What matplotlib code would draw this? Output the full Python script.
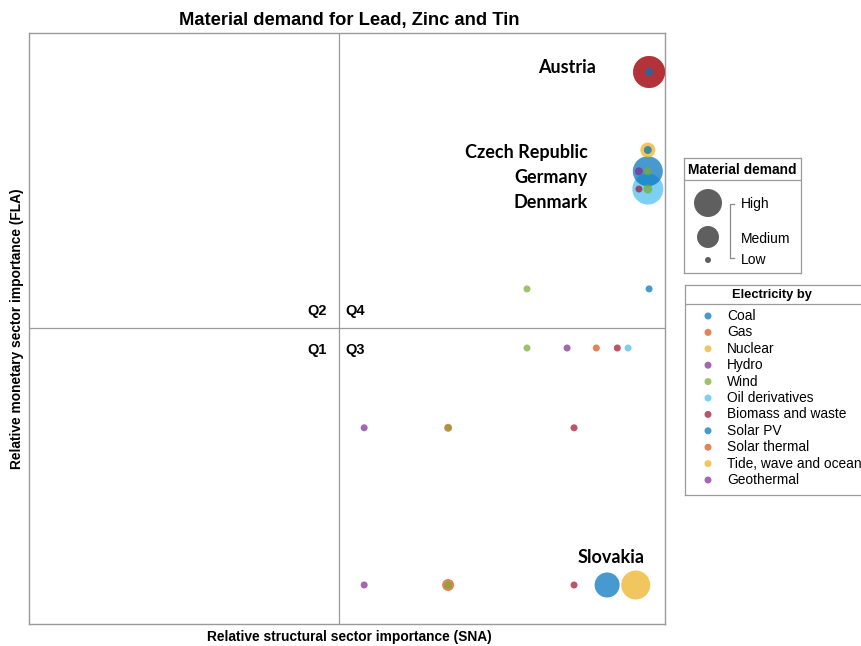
import matplotlib
matplotlib.use("Agg")
import matplotlib.pyplot as plt
from matplotlib.lines import Line2D

plt.rcParams['font.family'] = ['Liberation Sans', 'DejaVu Sans']

# --- data -------------------------------------------------------------
techs = ['Coal', 'Gas', 'Nuclear', 'Hydro', 'Wind', 'Oil derivatives',
         'Biomass and waste', 'Solar PV', 'Solar thermal',
         'Tide, wave and ocean', 'Geothermal']
tech_colors = ['#0072BD', '#D95319', '#EDB120', '#7E2F8E', '#77AC30', '#4DBEEE',
               '#A2142F', '#0072BD', '#D95319', '#EDB120', '#7E2F8E']

# one entry per bubble: technology, SNA score, FLA score, relative demand
pt_tech = ['Gas', 'Biomass and waste', 'Coal',
           'Nuclear', 'Coal',
           'Oil derivatives', 'Biomass and waste', 'Wind',
           'Coal', 'Hydro', 'Wind',
           'Wind', 'Coal',
           'Wind', 'Hydro', 'Gas', 'Biomass and waste', 'Oil derivatives',
           'Geothermal', 'Gas', 'Wind', 'Biomass and waste',
           'Hydro', 'Gas', 'Wind', 'Biomass and waste', 'Coal', 'Nuclear']
pt_x = [9.75, 9.75, 9.75,
        9.73, 9.73,
        9.73, 9.59, 9.73,
        9.73, 9.59, 9.73,
        7.83, 9.75,
        7.83, 8.46, 8.92, 9.25, 9.42,
        5.27, 6.59, 6.59, 8.57,
        5.27, 6.59, 6.59, 8.57, 9.09, 9.54]
pt_y = [9.34, 9.34, 9.34,
        8.02, 8.02,
        7.36, 7.36, 7.36,
        7.66, 7.66, 7.66,
        5.67, 5.67,
        4.67, 4.67, 4.67, 4.67, 4.67,
        3.32, 3.32, 3.32, 3.32,
        0.66, 0.66, 0.66, 0.66, 0.66, 0.66]
pt_demand = [32, 32, 8,
             15, 8,
             31, 7, 9,
             30, 8, 8,
             7, 7,
             7, 7, 7, 7, 7,
             7, 8, 6, 7,
             7, 12, 8, 7, 25, 29]

countries = ['Austria', 'Czech Republic', 'Germany', 'Denmark', 'Slovakia']
country_x = [8.92, 8.79, 8.79, 8.79, 8.63]
country_y = [9.41, 7.97, 7.56, 7.14, 1.13]
country_ha = ['right', 'right', 'right', 'right', 'left']

x_split = 4.874
y_split = 5.008

color_of = dict(zip(techs, tech_colors))

# --- figure -----------------------------------------------------------
fig = plt.figure(figsize=(8.61, 6.46), dpi=100)
ax = fig.add_axes([29 / 861, 22 / 646, 636 / 861, 591 / 646])
ax.set_xlim(0, 10)
ax.set_ylim(0, 10)
ax.set_xticks([])
ax.set_yticks([])
for s in ax.spines.values():
    s.set_color('#9a9a9a')
    s.set_linewidth(1.0)

ax.axvline(x_split, color='#9a9a9a', lw=0.9, zorder=1)
ax.axhline(y_split, color='#9a9a9a', lw=0.9, zorder=1)

# big bubbles first so the small ones stay visible (stable sort keeps order)
order = sorted(range(len(pt_x)), key=lambda i: -pt_demand[i])
for i in order:
    d_pt = pt_demand[i] * 0.72
    ax.scatter(pt_x[i], pt_y[i], s=d_pt ** 2, color=color_of[pt_tech[i]],
               alpha=0.72, edgecolors='none', zorder=3)

for name, cx, cy, ha in zip(countries, country_x, country_y, country_ha):
    ax.text(cx, cy, name, ha=ha, va='center', fontsize=13, fontweight='bold',
            family=['Lato', 'DejaVu Sans'], zorder=5)

qkw = dict(fontsize=10.5, fontweight='bold', va='center')
ax.text(x_split - 0.19, 5.30, 'Q2', ha='right', **qkw)
ax.text(x_split + 0.10, 5.30, 'Q4', ha='left', **qkw)
ax.text(x_split - 0.19, 4.64, 'Q1', ha='right', **qkw)
ax.text(x_split + 0.10, 4.64, 'Q3', ha='left', **qkw)

fig.text(349 / 861, 1 - 20 / 646, 'Material demand for Lead, Zinc and Tin',
         ha='center', va='center', fontsize=13.2, fontweight='bold')
fig.text(349 / 861, 1 - 637 / 646, 'Relative structural sector importance (SNA)',
         ha='center', va='center', fontsize=9.9, fontweight='bold')
fig.text(17 / 861, 1 - 329 / 646, 'Relative monetary sector importance (FLA)',
         ha='center', va='center', rotation=90, fontsize=9.9, fontweight='bold')

# --- legend: material demand -----------------------------------------
size_labels = ['High', 'Medium', 'Low']
size_demo = [28, 22, 6]

lg1 = fig.add_axes([684 / 861, 1 - 273 / 646, 117 / 861, 115 / 646])
lg1.set_xlim(0, 117)
lg1.set_ylim(115, 0)
lg1.set_xticks([])
lg1.set_yticks([])
for s in lg1.spines.values():
    s.set_color('#9a9a9a')
    s.set_linewidth(0.9)
lg1.text(58.5, 12, 'Material demand', ha='center', va='center',
         fontsize=9.9, fontweight='bold')
lg1.add_line(Line2D([0, 117], [22, 22], color='#9a9a9a', lw=0.9))
for yy, d in zip([45, 79, 102], size_demo):
    lg1.scatter(24, yy, s=(d * 0.72) ** 2, color='#5f5f5f', edgecolors='none')
lg1.add_line(Line2D([50, 46, 46, 50], [46, 46, 100, 100], color='#8a8a8a', lw=0.9))
for yy, lab in zip([46, 81, 102], size_labels):
    lg1.text(57, yy, lab, ha='left', va='center', fontsize=10)

# --- legend: electricity by ------------------------------------------
lg2 = fig.add_axes([685 / 861, 1 - 495 / 646, 200 / 861, 210 / 646])
lg2.set_xlim(0, 200)
lg2.set_ylim(210, 0)
lg2.set_xticks([])
lg2.set_yticks([])
for s in lg2.spines.values():
    s.set_color('#9a9a9a')
    s.set_linewidth(0.9)
lg2.text(87, 10, 'Electricity by', ha='center', va='center',
         fontsize=9.3, fontweight='bold')
lg2.add_line(Line2D([0, 200], [19, 19], color='#9a9a9a', lw=0.9))
for k, (t, c) in enumerate(zip(techs, tech_colors)):
    yy = 31 + 16.4 * k
    lg2.scatter(23, yy, s=(7 * 0.72) ** 2, color=c, alpha=0.72, edgecolors='none')
    lg2.text(42, yy, t, ha='left', va='center', fontsize=9.9)

fig.savefig('out.png', dpi=100)
